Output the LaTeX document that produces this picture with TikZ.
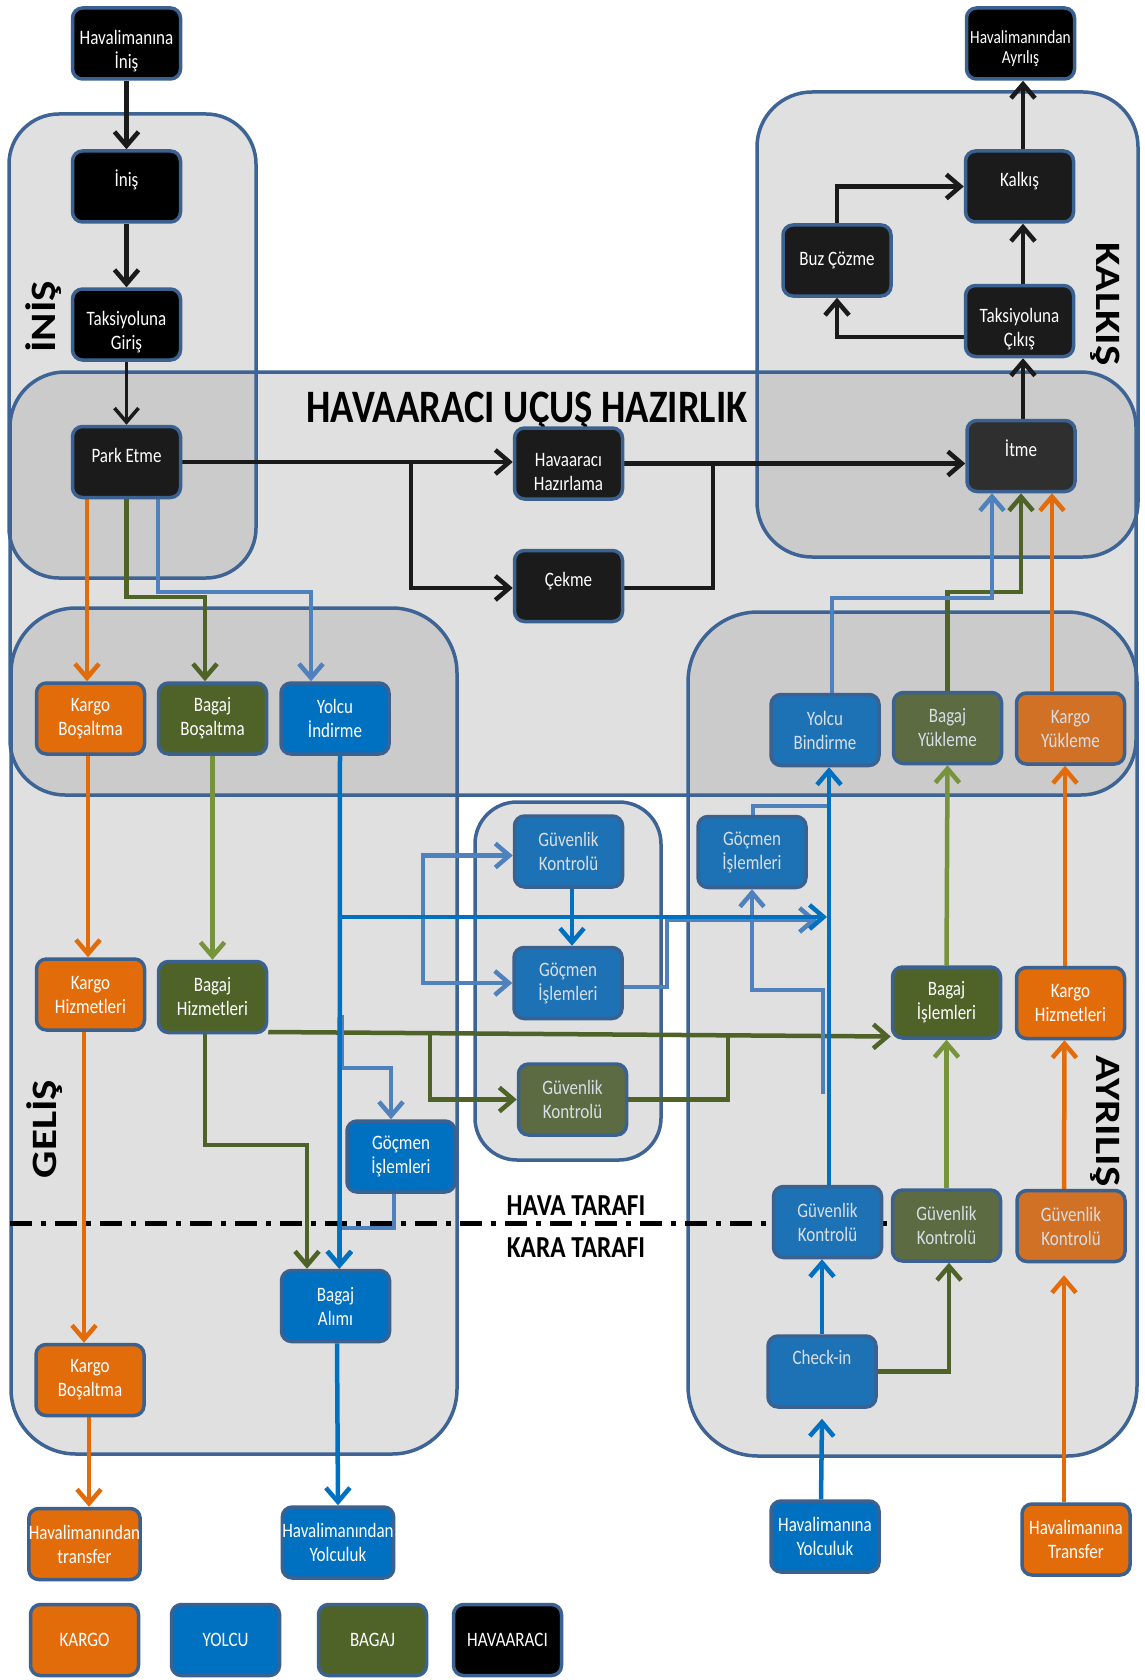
\documentclass[tikz,border=0pt]{standalone}
\usepackage{fontspec}
\setmainfont{Carlito}[FakeStretch=0.83]
\newfontfamily\lblfamily{Carlito}
\usetikzlibrary{arrows.meta}

\definecolor{boxline}{HTML}{3B6190}
\definecolor{contline}{HTML}{3D6494}
\definecolor{contfill}{HTML}{9F9F9F}
\definecolor{orS}{HTML}{E36C0A}
\definecolor{orD}{HTML}{D07126}
\definecolor{blS}{HTML}{0070C0}
\definecolor{blD}{HTML}{1C72B4}
\definecolor{grS}{HTML}{4F6228}
\definecolor{grD}{HTML}{5D6B43}
\definecolor{dk}{HTML}{1B1B1B}
\definecolor{dktwo}{HTML}{2F2F2F}
\definecolor{lblue}{HTML}{4F81BD}
\definecolor{lgreen}{HTML}{77933C}
\definecolor{wirek}{HTML}{1A1A1A}
\definecolor{txtdim}{HTML}{D8DEE6}

\newcommand\boxfont{\fontsize{20.5}{24}\selectfont}
\newcommand\smallboxfont{\fontsize{18.5}{20}\selectfont}
\newcommand\titlefont{\fontsize{46.5}{50}\selectfont\bfseries}
\newcommand\sidefont{\fontsize{30.5}{33}\selectfont\bfseries}
\newcommand\rotlabel[1]{\scalebox{1}[0.83]{\lblfamily\fontsize{43}{46}\selectfont\bfseries #1}}
% taller first line: pushes two-line labels of the dark boxes downwards
\newcommand\lowstrut{\rule{0pt}{30pt}}
\newcommand\lowstrutsmall{\rule{0pt}{24pt}}

\pgfdeclarelayer{bg}
\pgfdeclarelayer{wires}
\pgfsetlayers{bg,wires,main}

\tikzset{
  box/.style={draw=boxline, line width=3.5pt, rounded corners=10pt,
    minimum width=108pt, minimum height=71pt, inner sep=0pt,
    align=center, text=white, font=\boxfont},
  fK/.style={box, fill=black},
  fD/.style={box, fill=dk},
  fO/.style={box, fill=orS},
  fo/.style={box, fill=orD, text=txtdim},
  fB/.style={box, fill=blS},
  fb/.style={box, fill=blD, text=txtdim},
  fG/.style={box, fill=grS},
  fg/.style={box, fill=grD, text=txtdim},
  cont/.style={draw=contline, line width=3.5pt},
  cfill/.style={fill=contfill, fill opacity=0.323},
  wire/.style={line width=4.5pt},
  arr/.style={-{Straight Barb[length=14pt,width=24pt]}},
  wK/.style={wire, draw=wirek},
  wO/.style={wire, draw=orS},
  wB/.style={wire, draw=blS},
  wL/.style={wire, draw=lblue},
  wG/.style={wire, draw=grS},
  wH/.style={wire, draw=lgreen},
  ttl/.style={inner sep=0pt, font=\titlefont},
  sidettl/.style={inner sep=0pt, font=\sidefont},
}

\begin{document}
\begin{tikzpicture}[x=1pt, y=-1pt]
\useasboundingbox (0,0) rectangle (1144,1680);

% ---------- grouping areas ----------
\begin{pgfonlayer}{bg}
  \fill[white] (0,0) rectangle (1144,1680);
  \fill[cfill, rounded corners=50pt] (9,114) rectangle (256,578);
  \fill[cfill, rounded corners=55pt] (757,92) rectangle (1138,557);
  \fill[cfill, rounded corners=55pt] (10,372) rectangle (1136,795);
  \fill[cfill, rounded corners=65pt] (11,608) rectangle (457,1454);
  \fill[cfill, rounded corners=70pt] (688,612) rectangle (1137,1456);
  \fill[cfill, rounded corners=42pt] (475,802) rectangle (661,1160);
  \draw[cont, rounded corners=50pt] (9,114) rectangle (256,578);
  \draw[cont, rounded corners=55pt] (757,92) rectangle (1138,557);
  \draw[cont, rounded corners=55pt] (10,372) rectangle (1136,795);
  \draw[cont, rounded corners=65pt] (11,608) rectangle (457,1454);
  \draw[cont, rounded corners=70pt] (688,612) rectangle (1137,1456);
  \draw[cont, rounded corners=42pt] (475,802) rectangle (661,1160);
\end{pgfonlayer}

% ---------- area titles ----------
\node[ttl] (tHaz) at (527,411) {HAVAARACI UÇUŞ HAZIRLIK};
\node[inner sep=0pt, rotate=90] (tInis) at (44,317) {\rotlabel{İNİŞ}};
\node[inner sep=0pt, rotate=-90] (tKalk) at (1105,304) {\rotlabel{KALKIŞ}};
\node[inner sep=0pt, rotate=90] (tGel) at (45,1129) {\rotlabel{GELİŞ}};
\node[inner sep=0pt, rotate=-90] (tAyr) at (1105,1121) {\rotlabel{AYRILIŞ}};
\node[sidettl] (tHava) at (576,1206) {HAVA TARAFI};
\node[sidettl] (tKara) at (576,1248) {KARA TARAFI};

% ---------- aircraft steps ----------
\node[fK] (hIn) at (126.5,43.5) {\lowstrut Havalimanına\\İniş};
\node[fK] (inis) at (126.5,186.5) {\smash{İniş}};
\node[fK] (tgiris) at (126.5,324.5) {\lowstrut Taksiyoluna\\Giriş};
\node[fD] (park) at (126.5,462) {\smash{Park Etme}};
\node[fD] (hazir) at (568.5,463.5) {\lowstrut Havaaracı\\Hazırlama};
\node[fD] (cekme) at (568.5,586) {\smash{Çekme}};
\node[fD, fill=dktwo] (itme) at (1021,456) {\smash{İtme}};
\node[fD] (tcikis) at (1019.5,321) {\lowstrut Taksiyoluna\\Çıkış};
\node[fD] (kalkis) at (1019.5,186.5) {\smash{Kalkış}};
\node[fD] (buz) at (837,260.5) {Buz Çözme};
\node[fK, font=\smallboxfont] (hAyr) at (1020.5,43.5) {\lowstrutsmall Havalimanından\\Ayrılış};

% ---------- arrival ----------
\node[fO] (kb1) at (90.5,718.5) {Kargo\\Boşaltma};
\node[fG] (bb) at (212.5,718.5) {Bagaj\\Boşaltma};
\node[fB] (yi) at (335,718.5) {Yolcu\\İndirme};
\node[fO] (kh1) at (90.5,994.5) {Kargo\\Hizmetleri};
\node[fG] (bh) at (212.5,997) {Bagaj\\Hizmetleri};
\node[fB] (gi1) at (401,1156.5) {Göçmen\\İşlemleri};
\node[fB] (ba) at (335.5,1306) {Bagaj\\Alımı};
\node[fO] (kb2) at (90,1380) {Kargo\\Boşaltma};
\node[fO] (hTr) at (84.5,1544) {Havalimanından\\transfer};
\node[fB] (hYol) at (338,1542.5) {Havalimanından\\Yolculuk};

% ---------- transfer ----------
\node[fb] (gk1) at (568.5,851.5) {Güvenlik\\Kontrolü};
\node[fb] (gi2) at (568,983) {Göçmen\\İşlemleri};
\node[fg] (gk2) at (572.5,1099.5) {Güvenlik\\Kontrolü};
\node[fb] (gi3) at (752,852) {Göçmen\\İşlemleri};

% ---------- departure ----------
\node[fb] (yb) at (825,730) {Yolcu\\Bindirme};
\node[fg] (by) at (947.5,728) {Bagaj\\Yükleme};
\node[fo] (ky) at (1070.5,728.5) {Kargo\\Yükleme};
\node[fG] (bi) at (946.5,1002.5) {Bagaj\\İşlemleri};
\node[fO] (kh2) at (1070.5,1003) {Kargo\\Hizmetleri};
\node[fb] (gk3) at (827.5,1222) {Güvenlik\\Kontrolü};
\node[fg] (gk4) at (946.5,1225.5) {Güvenlik\\Kontrolü};
\node[fo] (gk5) at (1071,1226) {Güvenlik\\Kontrolü};
\node[fb] (chk) at (822,1371.5) {\smash{\raisebox{7pt}{Check-in}}};
\node[fB] (hYol2) at (825,1536.5) {Havalimanına\\Yolculuk};
\node[fO] (hTr2) at (1076,1539.5) {Havalimanına\\Transfer};

% ---------- legend ----------
\node[fO] (lgK) at (84.5,1640) {KARGO};
\node[fB] (lgY) at (225.5,1640) {YOLCU};
\node[fG] (lgB) at (372.5,1640) {BAGAJ};
\node[fK] (lgH) at (507.5,1640) {HAVAARACI};

% ---------- junction points ----------
\coordinate (jA) at (411,462);
\coordinate (jB) at (713,463.5);
\coordinate (gA) at (430,1033);
\coordinate (gB) at (728,1035);
\coordinate (bA) at (340,917);
\coordinate (bR) at (827,917);
\coordinate (lA) at (423,917);
\coordinate (lB) at (817,920);
\coordinate (lC) at (829,806);
\coordinate (lD) at (823,1094);
\coordinate (lE) at (342,1015);

\begin{pgfonlayer}{wires}
  % air side / land side border
  \draw[line width=5pt, dash pattern=on 22pt off 9pt on 5pt off 9pt]
    (10,1223) -- (892,1223);

  % aircraft flow
  \draw[wK,arr] (hIn.south) -- (inis.north);
  \draw[wK,arr] (inis.south) -- (tgiris.north);
  \draw[wK,arr,line width=3.5pt] (tgiris.south) -- (park.north);
  \draw[wK,arr] (park.east) -- (park.east -| hazir.west);
  \draw[wK,arr] (jA) |- ([yshift=-2pt]cekme.west);
  \draw[wK,arr] (hazir.east) -- (hazir.east -| itme.west);
  \draw[wK] ([yshift=-2pt]cekme.east) -| (jB);
  \draw[wK,arr] ([xshift=2pt]itme.north) -- ([xshift=3.5pt]tcikis.south);
  \draw[wK,arr] ([xshift=3.5pt]tcikis.north) -- ([xshift=3.5pt]kalkis.south);
  \draw[wK,arr] ([yshift=-16pt]tcikis.west) -| (buz.south);
  \draw[wK,arr] (buz.north) |- (kalkis.west);
  \draw[wK,arr] ([xshift=3.5pt]kalkis.north) -- ([xshift=2.5pt]hAyr.south);

  % cargo
  \draw[wO,arr] ([xshift=-39.5pt]park.south) -- ([xshift=-3.5pt]kb1.north);
  \draw[wO,arr] ([xshift=-2.5pt]kb1.south) -- ([xshift=-2.5pt]kh1.north);
  \draw[wO,arr] ([xshift=-6.5pt]kh1.south) -- ([xshift=-6pt]kb2.north);
  \draw[wO,arr] ([xshift=-1pt]kb2.south) -- ([xshift=4.5pt]hTr.north);
  \draw[wO,arr] ([xshift=-18.5pt]ky.north) -- ([xshift=31pt]itme.south);
  \draw[wO,arr] ([xshift=-5.5pt]kh2.north) -- ([xshift=-5.5pt]ky.south);
  \draw[wO,arr] ([xshift=-7pt]gk5.north) -- ([xshift=-6pt]kh2.south);
  \draw[wO,arr] ([xshift=-12pt]hTr2.north) -- ([xshift=-7pt,yshift=-12pt]gk5.south);

  % baggage
  \draw[wG,arr] (park.south) |- (205,597) -- ([xshift=-7.5pt]bb.north);
  \draw[wG,arr] ([yshift=-35pt]bh.east) -- ([yshift=-34pt]bi.west);
  \draw[wG,arr] (gA) |- (gk2.west);
  \draw[wG] (gk2.east) -| (gB);
  \draw[wG,arr] ([xshift=-7.5pt]bh.south) |- (307,1145) -- ([xshift=-28.5pt]ba.north);
  \draw[wG,arr] (by.north) |- (1021,592) -- (itme.south);
  \draw[wG,arr] (chk.east) -| ([xshift=2.5pt]gk4.south);
  \draw[wH,arr] (bb.south) -- (bh.north);
  \draw[wH,arr] (bi.north) -- (by.south);
  \draw[wH,arr] (gk4.north) -- (bi.south);

  % passengers
  \draw[wL,arr] ([xshift=31.5pt]park.south) |- (311,592) -- ([xshift=-24pt]yi.north);
  \draw[wL,arr] (lA) |- ([yshift=-4pt]gk1.west);
  \draw[wL,arr] (lA) |- (gi2.west);
  \draw[wL,arr] ([yshift=-4pt]gi2.east) -| (667,920) -- (lB);
  \draw[wL] ([xshift=1pt]gi3.north) |- (lC);
  \draw[wL,arr] (lD) -- (823,990) -| (gi3.south);
  \draw[wL,arr] ([xshift=7pt]yb.north) |- (992,598) -- ([xshift=-29pt]itme.south);
  \draw[wL,arr] (lE) |- (391,1068) -- ([xshift=-10pt]gi1.north);
  \draw[wL,arr] ([xshift=-7pt]gi1.south) |- (339,1228) -- ([xshift=3.5pt]ba.north);

  \draw[wB,arr] ([xshift=5pt]yi.south) -- ([xshift=4pt]ba.north);
  \draw[wB,arr] (bA) -- (bR);
  \draw[wB,arr] ([xshift=3.5pt]gk1.south) -- ([xshift=4pt]gi2.north);
  \draw[wB,arr] ([xshift=1.5pt]gk3.north) -- ([xshift=4pt]yb.south);
  \draw[wB,arr] (chk.north) -- ([xshift=-5.5pt]gk3.south);
  \draw[wB,arr] ([xshift=-4pt]hYol2.north) -- ([yshift=-10pt]chk.south);
  \draw[wB,arr] ([xshift=1.5pt]ba.south) -- (hYol.north);
\end{pgfonlayer}
\end{tikzpicture}
\end{document}
